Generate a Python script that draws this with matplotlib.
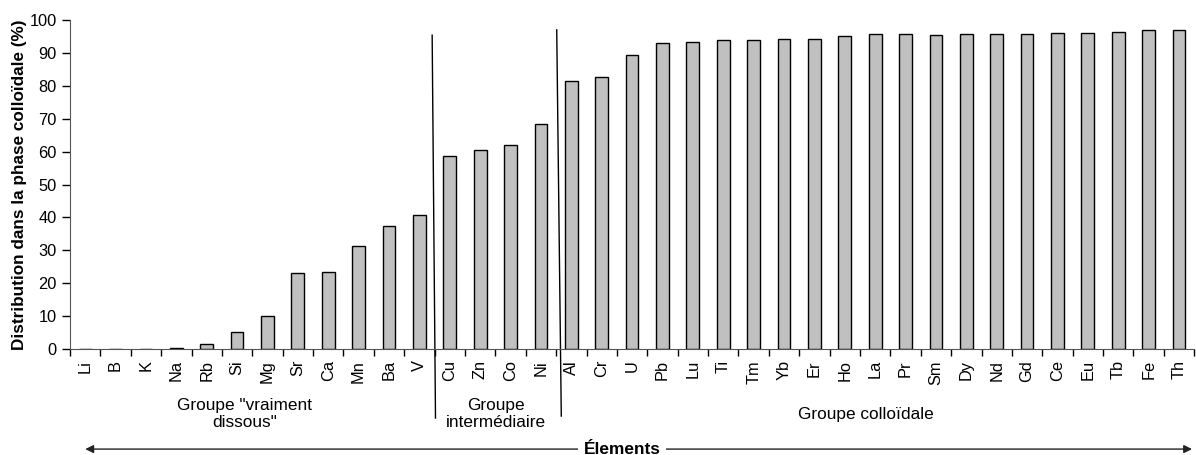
import matplotlib
matplotlib.use("Agg")
import matplotlib.pyplot as plt
import numpy as np

plt.rcParams['font.family'] = ['Liberation Sans', 'DejaVu Sans']

# données
elements = ['Li', 'B', 'K', 'Na', 'Rb', 'Si', 'Mg', 'Sr', 'Ca', 'Mn', 'Ba', 'V',
            'Cu', 'Zn', 'Co', 'Ni',
            'Al', 'Cr', 'U', 'Pb', 'Lu', 'Ti', 'Tm', 'Yb', 'Er', 'Ho', 'La', 'Pr',
            'Sm', 'Dy', 'Nd', 'Gd', 'Ce', 'Eu', 'Tb', 'Fe', 'Th']
distribution = [0, 0, 0, 0.4, 1.4, 5.3, 10.1, 23.0, 23.3, 31.4, 37.3, 40.8,
                58.7, 60.6, 61.9, 68.3,
                81.4, 82.6, 89.4, 92.9, 93.2, 93.8, 93.8, 94.1, 94.1, 95.2, 95.6, 95.6,
                95.5, 95.8, 95.8, 95.8, 96.1, 96.1, 96.5, 96.9, 97.1]
groupes = ['Groupe "vraiment\ndissous"', 'Groupe\nintermédiaire', 'Groupe colloïdale']
groupe_centres = [5.25, 13.53, 25.7]

fig = plt.figure(figsize=(11.96, 4.55), dpi=100)
ax = fig.add_axes([0.0585, 0.233, 0.94, 0.723])

x = np.arange(len(elements))
ax.bar(x, distribution, width=0.42, color='#C0C0C0', edgecolor='black', linewidth=1)

ax.set_xlim(-0.5, len(elements) - 0.5)
ax.set_ylim(0, 100)
ax.set_yticks(range(0, 101, 10))
ax.set_xticks(x)
ax.set_xticklabels(elements, rotation=90, fontsize=11.8)
ax.set_xticks(np.arange(-0.5, len(elements), 1), minor=True)
ax.tick_params(axis='x', which='major', length=0, pad=8)
ax.tick_params(axis='x', which='minor', length=5, direction='out', width=1)
ax.tick_params(axis='y', length=6, direction='out', labelsize=11.8, width=1)
for s in ['top', 'right']:
    ax.spines[s].set_visible(False)
ax.spines['left'].set_color('#555555')
ax.spines['bottom'].set_color('#555555')

fig.text(20 / 1196, 0.233 + 0.723 / 2, 'Distribution dans la phase colloïdale (%)',
         rotation=90, ha='center', va='center', fontsize=12.3, fontweight='bold')

# séparateurs de groupes
ax.plot([11.42, 11.53], [95.4, -21], color='black', lw=1, clip_on=False)
ax.plot([15.52, 15.67], [97, -20.4], color='black', lw=1, clip_on=False)

for g, cx in zip(groupes, groupe_centres):
    ax.text(cx, -19.8, g, ha='center', va='center', fontsize=12.4, linespacing=1.15)

# flèche "Élements"
fig.patches.append(matplotlib.patches.FancyArrowPatch(
    (0.069, 0.013), (0.999, 0.013), transform=fig.transFigure,
    arrowstyle='<|-|>', mutation_scale=12, color='#222222', lw=1))
fig.text(0.52, 0.013, 'Élements', ha='center', va='center', fontsize=12.4,
         fontweight='bold', bbox=dict(facecolor='white', edgecolor='none', pad=4))

fig.savefig('out.png', dpi=100)
